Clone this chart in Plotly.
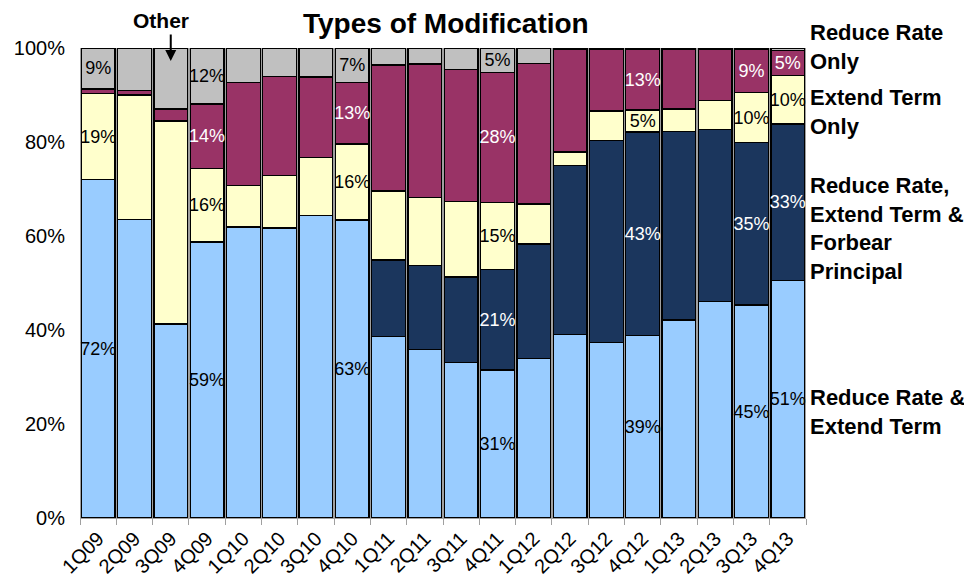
import plotly.graph_objects as go

quarters = ["1Q09", "2Q09", "3Q09", "4Q09", "1Q10", "2Q10", "3Q10", "4Q10",
            "1Q11", "2Q11", "3Q11", "4Q11", "1Q12", "2Q12", "3Q12", "4Q12",
            "1Q13", "2Q13", "3Q13", "4Q13"]

rate_and_term = [72.0, 63.5, 41.3, 58.7, 61.9, 61.7, 64.3, 63.4, 38.6, 35.9,
                 33.1, 31.5, 33.9, 39.1, 37.4, 38.8, 42.1, 46.0, 45.3, 50.6]
rate_term_forbear = [0, 0, 0, 0, 0, 0, 0, 0, 16.3, 17.8,
                     18.2, 21.3, 24.4, 35.9, 42.9, 43.3, 40.2, 36.7, 34.6, 33.2]
term_only = [18.3, 26.5, 43.2, 15.7, 8.8, 11.1, 12.4, 16.2, 14.7, 14.5,
             16.0, 14.4, 8.5, 2.9, 6.3, 4.7, 4.7, 6.2, 10.6, 10.3]
rate_only = [1.0, 1.0, 2.5, 13.7, 22.0, 21.1, 17.1, 13.0, 26.8, 28.4,
             28.2, 27.6, 29.9, 21.8, 13.1, 12.9, 12.7, 10.8, 9.2, 5.3]
other = [8.7, 9.0, 13.0, 11.9, 7.3, 6.1, 6.2, 7.4, 3.6, 3.4,
         4.5, 5.2, 3.3, 0.3, 0.3, 0.3, 0.3, 0.3, 0.3, 0.6]

# data labels shown on the chart (only selected quarters are labelled)
lbl_rate_and_term = ["72%", "", "", "59%", "", "", "", "63%", "", "", "", "31%",
                     "", "", "", "39%", "", "", "45%", "51%"]
lbl_rate_term_forbear = ["", "", "", "", "", "", "", "", "", "", "", "21%",
                         "", "", "", "43%", "", "", "35%", "33%"]
lbl_term_only = ["19%", "", "", "16%", "", "", "", "16%", "", "", "", "15%",
                 "", "", "", "5%", "", "", "10%", "10%"]
lbl_rate_only = ["", "", "", "14%", "", "", "", "13%", "", "", "", "28%",
                 "", "", "", "13%", "", "", "9%", "5%"]
lbl_other = ["9%", "", "", "12%", "", "", "", "7%", "", "", "", "5%",
             "", "", "", "", "", "", "", ""]

y_ticks = [0, 20, 40, 60, 80, 100]
y_tick_labels = ["0%", "20%", "40%", "60%", "80%", "100%"]

series = [
    ("Reduce Rate & Extend Term", rate_and_term, lbl_rate_and_term, "#99CCFF", "black"),
    ("Reduce Rate, Extend Term & Forbear Principal", rate_term_forbear, lbl_rate_term_forbear, "#1B365D", "white"),
    ("Extend Term Only", term_only, lbl_term_only, "#FFFFCC", "black"),
    ("Reduce Rate Only", rate_only, lbl_rate_only, "#993366", "white"),
    ("Other", other, lbl_other, "#C0C0C0", "black"),
]

FONT = "Arial, Liberation Sans, sans-serif"

fig = go.Figure()
for name, vals, lbls, color, tcolor in series:
    fig.add_trace(go.Bar(
        x=quarters, y=vals, name=name,
        marker=dict(color=color, line=dict(color="black", width=1.3)),
        text=lbls, textposition="inside", insidetextanchor="middle",
        textangle=0,
        insidetextfont=dict(family=FONT, size=18, color=tcolor),
        hoverinfo="x+y+name",
    ))

# page has an 8px body margin: figure is drawn offset by (8, 8) in the window
OFF = 8
W, H = 964, 569
# plot area in window pixels: x 80..806, y 48..518
PL, PR, PT, PB = 80, 806, 48, 518
L, R = PL - OFF, W - (PR - OFF)
T, B = PT - OFF, H - (PB - OFF)
pw, ph = PR - PL, PB - PT


def px_x(x):
    return (x - PL) / pw


def px_y(y):
    return (PB - y) / ph


annotations = [
    dict(text="<b>Types of Modification</b>", xref="paper", yref="paper",
         x=px_x(446), y=px_y(24), xanchor="center", yanchor="middle",
         showarrow=False, font=dict(family=FONT, size=28, color="black")),
    dict(text="<b>Other</b>", xref="paper", yref="paper",
         x=px_x(161), y=px_y(21), xanchor="center", yanchor="middle",
         showarrow=False, font=dict(family=FONT, size=21, color="black")),
    dict(text="", xref="x", yref="paper", x="3Q09", y=px_y(61),
         ax=0, ay=-28, showarrow=True, arrowhead=2, arrowsize=1.1,
         arrowwidth=2, arrowcolor="black"),
]
right_labels = [
    ("<b>Reduce Rate<br>Only</b>", 47),
    ("<b>Extend Term<br>Only</b>", 112),
    ("<b>Reduce Rate,<br>Extend Term &<br>Forbear<br>Principal</b>", 228),
    ("<b>Reduce Rate &<br>Extend Term</b>", 412),
]
for txt, yc in right_labels:
    annotations.append(dict(
        text=txt, xref="paper", yref="paper", x=px_x(808), y=px_y(yc),
        xanchor="left", yanchor="middle", align="left", showarrow=False,
        font=dict(family=FONT, size=22, color="black")))

fig.update_layout(
    barmode="stack", bargap=0.07,
    width=W, height=H, autosize=False,
    margin=dict(l=L, r=R, t=T, b=B, pad=0, autoexpand=False),
    paper_bgcolor="white", plot_bgcolor="#A0A0A0",
    showlegend=False,
    uniformtext=dict(minsize=18, mode="show"),
    font=dict(family=FONT, color="black"),
    annotations=annotations,
    xaxis=dict(range=[-0.5, 19.5], tickangle=-45, tickfont=dict(size=20),
               showline=True, linecolor="#A0A0A0", linewidth=1,
               ticks="outside", tickson="boundaries", ticklen=6,
               tickcolor="#A0A0A0", showgrid=False, automargin=False),
    yaxis=dict(range=[0, 100], tickmode="array", tickvals=y_ticks,
               ticktext=y_tick_labels, tickfont=dict(size=20), showgrid=False,
               zeroline=False, showline=False, ticks="",
               ticklabelstandoff=14, automargin=False),
)

fig.write_html("out.html")
